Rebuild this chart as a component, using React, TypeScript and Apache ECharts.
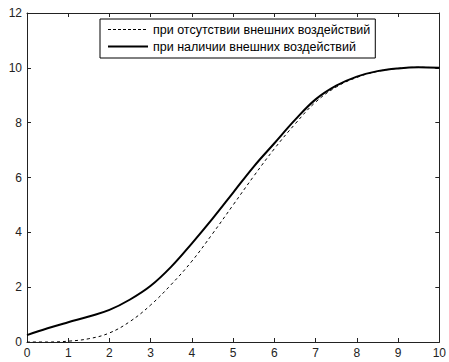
import React, { useEffect, useRef } from "react";
import * as echarts from "echarts";

const xValues = [0, 0.5, 1, 1.5, 2, 2.5, 3, 3.5, 4, 4.5, 5, 5.5, 6, 6.5, 7, 7.5, 8, 8.5, 9, 9.5, 10];
const withoutForces = [0, 0.0, 0.03, 0.12, 0.33, 0.75, 1.35, 2.1, 2.95, 3.95, 5.0, 6.05, 7.05, 7.95, 8.75, 9.3, 9.65, 9.87, 9.98, 10.02, 10.0];
const withForces = [0.25, 0.5, 0.72, 0.93, 1.17, 1.55, 2.05, 2.75, 3.6, 4.5, 5.45, 6.4, 7.25, 8.1, 8.85, 9.35, 9.68, 9.88, 9.98, 10.02, 10.0];
const seriesNames = ["при отсутствии внешних воздействий", "при наличии внешних воздействий"];

const FONT = "'Liberation Sans', Arial, sans-serif";
const AX = "#222";

export default function App() {
  const ref = useRef<HTMLDivElement>(null);
  useEffect(() => {
    if (!ref.current) return;
    const chart = echarts.init(ref.current, null, { renderer: "svg" });
    const axisCommon = {
      type: "value",
      axisLine: { show: true, onZero: false, lineStyle: { color: AX, width: 1 } },
      axisTick: { show: true, inside: true, length: 4, lineStyle: { color: AX } },
      splitLine: { show: false },
    };
    chart.setOption({
      animation: false,
      backgroundColor: "#fff",
      grid: { left: 27, right: 3, top: 13, bottom: 20, containLabel: false },
      legend: {
        orient: "vertical",
        left: 100,
        top: 19,
        borderColor: "#000",
        borderWidth: 1,
        padding: [4, 5, 5, 7],
        itemGap: 4,
        itemWidth: 40,
        itemHeight: 14,
        itemStyle: { opacity: 0, color: "transparent", borderWidth: 0 },
        textStyle: { fontFamily: FONT, fontSize: 12.5, color: "#000" },
        data: [
          { name: seriesNames[0], lineStyle: { width: 1, type: [3, 2], color: "#000" } },
          { name: seriesNames[1], lineStyle: { width: 2, color: "#000" } },
        ],
      },
      xAxis: [
        {
          ...axisCommon,
          position: "bottom",
          min: 0,
          max: 10,
          interval: 1,
          axisLabel: { color: AX, fontFamily: FONT, fontSize: 12, margin: 5 },
        },
        {
          ...axisCommon,
          position: "top",
          min: 0,
          max: 10,
          interval: 1,
          axisLabel: { show: false },
        },
      ],
      yAxis: [
        {
          ...axisCommon,
          position: "left",
          min: 0,
          max: 12,
          interval: 2,
          axisLabel: { color: AX, fontFamily: FONT, fontSize: 12, margin: 5 },
        },
        {
          ...axisCommon,
          position: "right",
          min: 0,
          max: 12,
          interval: 2,
          axisLabel: { show: false },
        },
      ],
      series: [
        {
          name: seriesNames[0],
          type: "line",
          smooth: 0.4,
          symbol: "none",
          data: xValues.map((x, i) => [x, withoutForces[i]]),
          lineStyle: { color: "#000", width: 1, type: [3, 3] },
          itemStyle: { color: "#000" },
        },
        {
          name: seriesNames[1],
          type: "line",
          smooth: 0.4,
          symbol: "none",
          data: xValues.map((x, i) => [x, withForces[i]]),
          lineStyle: { color: "#000", width: 2 },
          itemStyle: { color: "#000" },
        },
      ],
    });
    return () => chart.dispose();
  }, []);
  return <div ref={ref} style={{ width: 449, height: 362, position: "absolute", left: 0, top: 0 }} />;
}
